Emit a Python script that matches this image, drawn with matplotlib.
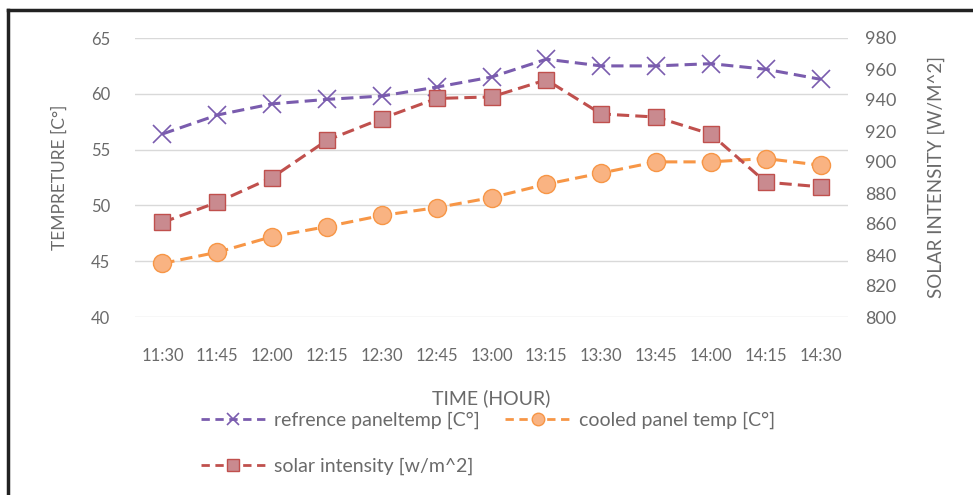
import matplotlib.pyplot as plt
from matplotlib.lines import Line2D

times = ["11:30", "11:45", "12:00", "12:15", "12:30", "12:45", "13:00",
         "13:15", "13:30", "13:45", "14:00", "14:15", "14:30"]
ref_temp = [56.4, 58.1, 59.1, 59.5, 59.8, 60.6, 61.5, 63.1, 62.5, 62.5, 62.7, 62.2, 61.3]
cooled_temp = [44.8, 45.8, 47.2, 48.1, 49.1, 49.8, 50.7, 51.9, 52.9, 53.9, 53.9, 54.2, 53.6]
solar = [861, 874, 890, 914, 928, 941, 942, 953, 931, 929, 918, 887, 884]

left_ticks = [40, 45, 50, 55, 60, 65]
right_ticks = list(range(800, 1000, 20))

txt = "#6a6a6a"
purple = "#7a5cae"
orange = "#f79646"
orange_fill = "#f9b382"
red = "#c0504d"
red_fill = "#c98a8f"

plt.rcParams['font.family'] = ['Lato', 'DejaVu Sans']

fig = plt.figure(figsize=(9.73, 4.95), dpi=100)
ax = fig.add_axes([135/973, 1-317/495, 713/973, 279/495])
ax2 = ax.twinx()

x = list(range(len(times)))
dash = (0, (4, 2))

l1, = ax.plot(x, ref_temp, color=purple, lw=2.2, ls=dash, marker='x',
              ms=13, mew=1.2, label="refrence paneltemp [C°]", zorder=4)
l2, = ax.plot(x, cooled_temp, color=orange, lw=2.2, ls=dash, marker='o',
              ms=13, mfc=orange_fill, mec=orange, mew=1, label="cooled panel temp [C°]", zorder=4)
l3, = ax2.plot(x, solar, color=red, lw=2.2, ls=dash, marker='s',
               ms=12, mfc=red_fill, mec=red, mew=1, label="solar intensity [w/m^2]", zorder=4)

ax.set_xlim(-0.5, len(times) - 0.5)
ax.set_ylim(40, 65)
ax2.set_ylim(800, 980)
ax.set_yticks(left_ticks)
ax2.set_yticks(right_ticks)
ax.set_xticks(x)
ax.set_xticklabels(times)

ax.grid(axis='y', color='#d9d9d9', lw=1)
ax.set_axisbelow(True)
for a in (ax, ax2):
    for s in a.spines.values():
        s.set_visible(False)
    a.tick_params(length=0, colors=txt)
ax.tick_params(axis='x', pad=22, labelsize=12)
ax.tick_params(axis='y', pad=18, labelsize=12)
ax2.tick_params(axis='y', pad=12, labelsize=13)

fig.text(60/973, 1-177/495, "TEMPRETURE [C°]", rotation=90, ha='center', va='center',
         color=txt, fontsize=12.5)
fig.text(936/973, 1-177/495, "SOLAR INTENSITY [W/M^2]", rotation=90, ha='center', va='center',
         color=txt, fontsize=13.5)
fig.text(491/973, 1-398/495, "TIME (HOUR)", ha='center', va='center', color=txt, fontsize=14)

handles = [
    Line2D([], [], color=purple, lw=2, ls=(0, (3, 2)), marker='x', ms=9, mew=1.2),
    Line2D([], [], color=red, lw=2, ls=(0, (3, 2)), marker='s', ms=8, mfc=red_fill, mec=red),
    Line2D([], [], color=orange, lw=2, ls=(0, (3, 2)), marker='o', ms=9, mfc=orange_fill, mec=orange),
]
labels = [l1.get_label(), l3.get_label(), l2.get_label()]
leg = fig.legend(handles, labels, loc='upper left', bbox_to_anchor=(183/973, 1-394/495),
                 ncol=2, frameon=False, fontsize=14, handlelength=3.3,
                 handletextpad=0.5, columnspacing=1.3, labelspacing=1.5)
for t in leg.get_texts():
    t.set_color(txt)

# page border
fig.add_artist(Line2D([8/973, 8/973], [0, 1-10/495], color='#222222', lw=2.5))
fig.add_artist(Line2D([8/973, 1], [1-10/495, 1-10/495], color='#222222', lw=2.5))

fig.savefig("out.png", dpi=100)
